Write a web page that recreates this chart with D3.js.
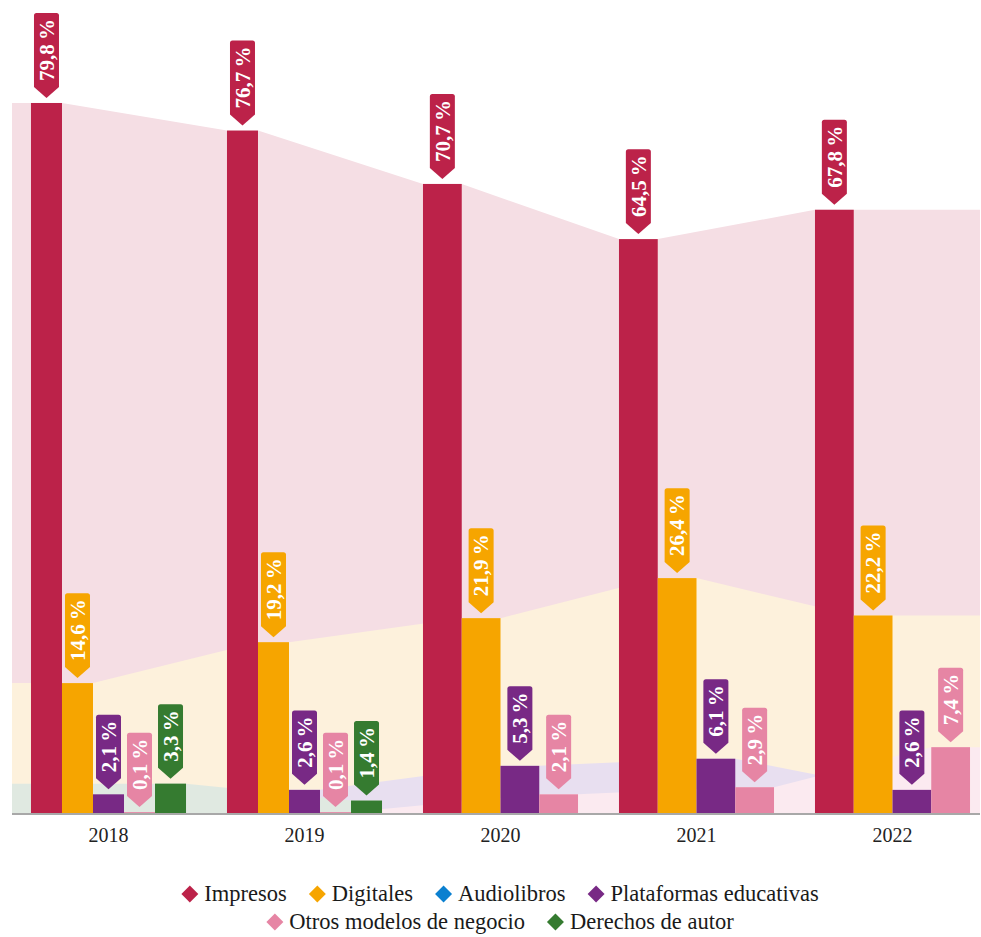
<!DOCTYPE html>
<html lang="es">
<head>
<meta charset="utf-8">
<script src="https://cdn.jsdelivr.net/npm/d3@7/dist/d3.min.js"></script>
<style>
  html, body { margin: 0; padding: 0; background: #ffffff; }
  svg { display: block; font-family: "Liberation Serif", "DejaVu Serif", serif; }
</style>
</head>
<body>
<svg id="chart" width="981" height="937"></svg>
<script>
// Cuota de facturación por canal / modelo de negocio (%)
const years = ["2018", "2019", "2020", "2021", "2022"];
const seriesNames = ["Impresos", "Digitales", "Audiolibros", "Plataformas educativas", "Otros modelos de negocio", "Derechos de autor"];
const impresos    = [79.8, 76.7, 70.7, 64.5, 67.8];
const digitales   = [14.6, 19.2, 21.9, 26.4, 22.2];
const audiolibros = [null, null, null, null, null];
const plataformas = [2.1, 2.6, 5.3, 6.1, 2.6];
const otros       = [0.1, 0.1, 2.1, 2.9, 7.4];
const derechos    = [3.3, 1.4, null, null, null];

const barColors  = ["#bc2249", "#f6a500", "#0b80d0", "#782985", "#e685a4", "#357b30"];
const areaColors = ["#f5dee4", "#fdf1dc", "#dcebf7", "#e8dff0", "#fbeaf0", "#e0e9e1"];

const serif = "Liberation Serif, DejaVu Serif, serif";

const series = [impresos, digitales, audiolibros, plataformas, otros, derechos]
  .map((values, k) => ({ name: seriesNames[k], values, bar: barColors[k], area: areaColors[k] }));

const svg = d3.select("#chart");
const plotLeft = 12, plotRight = 980, baseY = 813;

const x = d3.scaleBand().domain(years).range([10.5, 990.5]).paddingInner(0.209).paddingOuter(0.1045);
const y = d3.scaleLinear().domain([0, 80]).range([baseY, 101.2]);

// bar slots per year: only series with a value get a slot
const slots = years.map((yr, i) => {
  const present = series.filter(s => s.values[i] != null);
  return d3.scaleBand().domain(present.map(s => s.name)).range([x(yr), x(yr) + x.bandwidth()]);
});

// background areas joining the bar tops of each series
const areaGen = d3.area().x(d => d[0]).y0(baseY).y1(d => d[1]);
const areaLayer = svg.append("g").attr("class", "areas");
series.forEach(s => {
  const pts = [];
  const n = years.length;
  s.values.forEach((v, i) => {
    if (v == null) return;
    const inner = slots[i];
    const x0 = inner(s.name), x1 = x0 + inner.bandwidth();
    const prevNull = i > 0 && s.values[i - 1] == null;
    const nextNull = i < n - 1 && s.values[i + 1] == null;
    if (i === 0) pts.push([plotLeft, y(v)]);
    if (prevNull) pts.push([x0, y(0)]);
    pts.push([x0, y(v)], [x1, y(v)]);
    if (nextNull) pts.push([x1, y(0)]);
    if (i === n - 1) pts.push([plotRight, y(v)]);
  });
  if (pts.length) {
    areaLayer.append("path").attr("d", areaGen(pts)).attr("fill", s.area);
  }
});

// axis
const xAxis = d3.axisBottom(x).tickSize(0).tickPadding(14);
const axisG = svg.append("g").attr("transform", `translate(0,${baseY + 1})`).call(xAxis);
axisG.attr("font-family", serif);
axisG.select(".domain").remove();
axisG.append("line").attr("x1", plotLeft).attr("x2", plotRight).attr("y1", 0).attr("y2", 0)
  .attr("stroke", "#a8a8a8").attr("stroke-width", 2);
axisG.selectAll(".tick text").attr("font-size", 20).attr("fill", "#222");

// bars
const barLayer = svg.append("g").attr("class", "bars");
const labelLayer = svg.append("g").attr("class", "labels");
const fmt = v => d3.format(".1f")(v).replace(".", ",") + "\u202F%";

series.forEach(s => {
  s.values.forEach((v, i) => {
    if (v == null) return;
    const inner = slots[i];
    const bx = inner(s.name), bw = inner.bandwidth();
    barLayer.append("rect")
      .attr("x", bx).attr("y", y(v))
      .attr("width", bw).attr("height", baseY - y(v))
      .attr("fill", s.bar);

    // flag-shaped value label pointing at the bar
    const cx = bx + bw / 2;
    const g = labelLayer.append("g").attr("transform", `translate(${cx},${y(v) - 5})`);
    const path = g.append("path").attr("fill", s.bar);
    const t = g.append("text")
      .attr("text-anchor", "middle")
      .attr("font-family", serif)
      .attr("font-size", 21)
      .attr("font-weight", "bold")
      .attr("fill", "#ffffff")
      .text(fmt(v));
    const L = t.node().getComputedTextLength() + 12;
    const hw = 12.5, tip = 11, r = 2.5;
    const top = -tip - L;
    path.attr("d", `M0,0 L${-hw},${-tip} L${-hw},${top + r} Q${-hw},${top} ${-hw + r},${top}
      L${hw - r},${top} Q${hw},${top} ${hw},${top + r} L${hw},${-tip} Z`);
    t.attr("transform", `translate(0,${-tip - L / 2}) rotate(-90)`).attr("dy", "0.34em");
  });
});

// legend
const legendRows = [[0, 1, 2, 3], [4, 5]];
const legendY = [894, 922];
const legend = svg.append("g").attr("class", "legend");
legendRows.forEach((row, r) => {
  const rowG = legend.append("g");
  let cursor = 0;
  row.forEach((k, j) => {
    const item = rowG.append("g").attr("transform", `translate(${cursor},0)`);
    item.append("rect")
      .attr("x", -6).attr("y", -6).attr("width", 12).attr("height", 12)
      .attr("transform", "translate(8.5,0) rotate(45)")
      .attr("fill", barColors[k]);
    const txt = item.append("text")
      .attr("x", 23).attr("dy", "0.33em")
      .attr("font-family", serif)
      .attr("font-size", 22.5).attr("fill", "#1a1a1a")
      .text(seriesNames[k]);
    cursor += 23 + txt.node().getComputedTextLength() + (j < row.length - 1 ? 22 : 0);
  });
  rowG.attr("transform", `translate(${500 - cursor / 2},${legendY[r]})`);
});
</script>
</body>
</html>
